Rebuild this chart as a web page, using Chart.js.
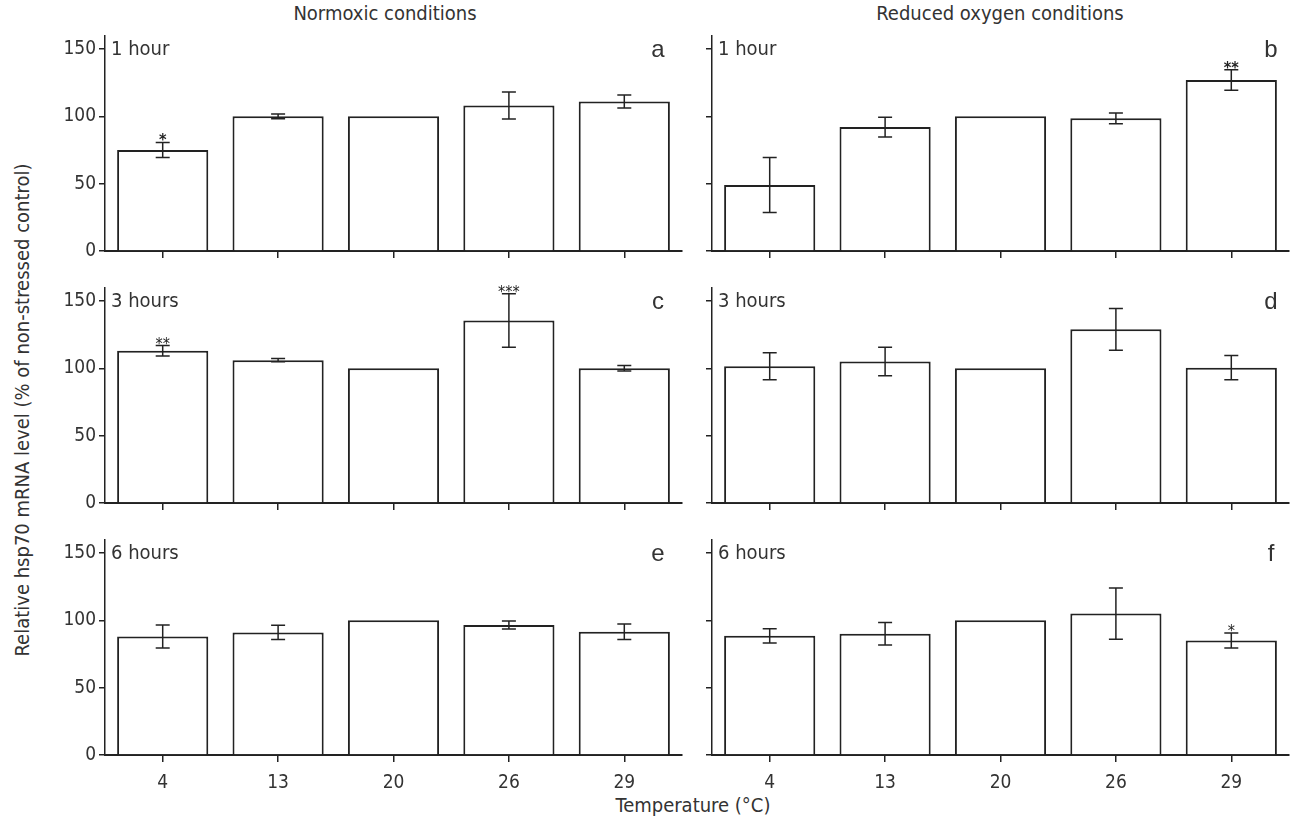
<!DOCTYPE html>
<html><head><meta charset="utf-8">
<script src="https://cdn.jsdelivr.net/npm/chart.js@4.4.1/dist/chart.umd.min.js"></script>
<style>
html,body{margin:0;padding:0;background:#fff;}
body{width:1290px;height:819px;overflow:hidden;position:relative;font-family:'Liberation Sans Narrow','DejaVu Sans Condensed',sans-serif;color:#333;}
canvas{position:absolute;}
.t{position:absolute;font-size:20px;white-space:nowrap;transform:translate(-50%,-50%);}
</style></head><body>
<div class="t" style="left:385px;top:13px;">Normoxic conditions</div>
<div class="t" style="left:1000px;top:13px;">Reduced oxygen conditions</div>
<div class="t" style="left:693px;top:805px;">Temperature (°C)</div>
<div class="t" style="left:22px;top:410px;transform:translate(-50%,-50%) rotate(-90deg);">Relative hsp70 mRNA level (% of non-stressed control)</div>
<script>
// ---- data ----
const categories = ['4', '13', '20', '26', '29'];
const yTickValues = [0, 50, 100, 150];

const normoxic1hMeans  = [75, 100, 100, 108, 111];
const normoxic1hErrors = [5.6, 1.8, 0, 10, 4.8];
const normoxic1hMarks  = ['*', '', '', '', ''];

const reduced1hMeans  = [49, 92, 100, 98.5, 127];
const reduced1hErrors = [20.5, 7.3, 0, 4, 7.6];
const reduced1hMarks  = ['', '', '', '', '**'];

const normoxic3hMeans  = [113, 106, 100, 135.5, 100];
const normoxic3hErrors = [3.9, 1.2, 0, 19.8, 2];
const normoxic3hMarks  = ['**', '', '', '***', ''];

const reduced3hMeans  = [101.5, 105, 100, 129, 100.5];
const reduced3hErrors = [10, 10.6, 0, 15.5, 9];
const reduced3hMarks  = ['', '', '', '', ''];

const normoxic6hMeans  = [88, 91, 100, 96.5, 91.5];
const normoxic6hErrors = [8.5, 5.3, 0, 2.9, 5.8];
const normoxic6hMarks  = ['', '', '', '', ''];

const reduced6hMeans  = [88.5, 90, 100, 105, 85];
const reduced6hErrors = [5.3, 8.3, 0, 19, 5.6];
const reduced6hMarks  = ['', '', '', '', '*'];

const panelTimes = ['1 hour', '1 hour', '3 hours', '3 hours', '6 hours', '6 hours'];
const panelLetters = ['a', 'b', 'c', 'd', 'e', 'f'];

// ---- build panels ----
const panels = [
  {means: normoxic1hMeans, errors: normoxic1hErrors, marks: normoxic1hMarks},
  {means: reduced1hMeans,  errors: reduced1hErrors,  marks: reduced1hMarks},
  {means: normoxic3hMeans, errors: normoxic3hErrors, marks: normoxic3hMarks},
  {means: reduced3hMeans,  errors: reduced3hErrors,  marks: reduced3hMarks},
  {means: normoxic6hMeans, errors: normoxic6hErrors, marks: normoxic6hMarks},
  {means: reduced6hMeans,  errors: reduced6hErrors,  marks: reduced6hMarks}
];

const FONT = "'Liberation Sans Narrow','DejaVu Sans Condensed',sans-serif";
const INK = '#222';
const AREA_W = 577, AXIS_W = 105, TOP_PAD = 35.5, AREA_BOTTOM = 251;

const errPlugin = {
  id: 'errbars',
  afterDatasetsDraw(chart, args, opts) {
    const ctx = chart.ctx;
    const meta = chart.getDatasetMeta(0);
    const ys = chart.scales.y;
    ctx.save();
    ctx.strokeStyle = INK;
    ctx.lineWidth = 1.5;
    meta.data.forEach((bar, i) => {
      const m = opts.means[i], e = opts.errors[i];
      const x = bar.x;
      const yt = ys.getPixelForValue(m + e), yb = ys.getPixelForValue(m - e);
      if (e > 0) {
        ctx.beginPath();
        ctx.moveTo(x, yt); ctx.lineTo(x, yb);
        ctx.moveTo(x - 7, yt); ctx.lineTo(x + 7, yt);
        ctx.moveTo(x - 7, yb); ctx.lineTo(x + 7, yb);
        ctx.stroke();
      }
      const mk = opts.marks[i];
      if (mk) {
        ctx.fillStyle = INK;
        ctx.font = (opts.boldMarks ? 'bold ' : '') + '16px ' + FONT;
        ctx.textAlign = 'center';
        ctx.textBaseline = 'alphabetic';
        ctx.fillText(mk, x, yt + 3);
      }
    });
    // panel captions
    const ca = chart.chartArea;
    ctx.fillStyle = '#333';
    ctx.textBaseline = 'middle';
    ctx.textAlign = 'left';
    ctx.font = '20px ' + FONT;
    ctx.fillText(opts.time, ca.left + 6, ys.getPixelForValue(150) + 1);
    ctx.textAlign = 'center';
    ctx.font = '24px "Liberation Sans", Arial, sans-serif';
    ctx.fillText(opts.letter, ca.right - opts.letterOff, ys.getPixelForValue(150) + 1);
    ctx.restore();
  }
};

panels.forEach((p, idx) => {
  const col = idx % 2, row = Math.floor(idx / 2);
  const left = col === 0 ? 0 : 607;
  const W = col === 0 ? 690 : 683;
  const top = 252 * row;
  const H = row === 2 ? 315 : 280;
  const cv = document.createElement('canvas');
  cv.width = W; cv.height = H;
  cv.style.left = left + 'px'; cv.style.top = top + 'px';
  cv.style.width = W + 'px'; cv.style.height = H + 'px';
  document.body.appendChild(cv);

  new Chart(cv, {
    type: 'bar',
    data: {
      labels: categories,
      datasets: [{
        data: p.means,
        backgroundColor: '#fff',
        borderColor: INK,
        borderWidth: 2,
        barPercentage: 0.79,
        categoryPercentage: 1.0
      }]
    },
    options: {
      responsive: false,
      animation: false,
      devicePixelRatio: 1,
      layout: {padding: {top: TOP_PAD, left: 0, bottom: 0, right: W - AXIS_W - AREA_W}},
      plugins: {
        legend: {display: false},
        tooltip: {enabled: false},
        errbars: {means: p.means, errors: p.errors, marks: p.marks, boldMarks: row === 0,
                  time: panelTimes[idx], letter: panelLetters[idx], letterOff: col === 0 ? 24 : 18}
      },
      scales: {
        x: {
          type: 'category',
          offset: true,
          grid: {offset: false, drawOnChartArea: false, drawTicks: true, tickLength: 7, color: INK, lineWidth: 1.5},
          border: {display: true, color: INK, width: 2},
          ticks: {
            display: row === 2,
            color: '#333',
            padding: 10,
            font: {family: FONT, size: 19},
            maxRotation: 0
          },
          afterFit(s) { s.height = H - AREA_BOTTOM; }
        },
        y: {
          min: 0, max: 160,
          grid: {drawOnChartArea: false, drawTicks: true, tickLength: 6, color: INK, lineWidth: 1.5},
          border: {display: true, color: INK, width: 1.5},
          ticks: {
            color: '#333',
            padding: 3,
            font: {family: FONT, size: 19},
            callback: (v) => col === 0 ? String(v) : ''
          },
          afterBuildTicks(s) { s.ticks = yTickValues.map(v => ({value: v})); },
          afterFit(s) { s.width = AXIS_W; }
        }
      }
    },
    plugins: [errPlugin]
  });
});
</script>
</body></html>
